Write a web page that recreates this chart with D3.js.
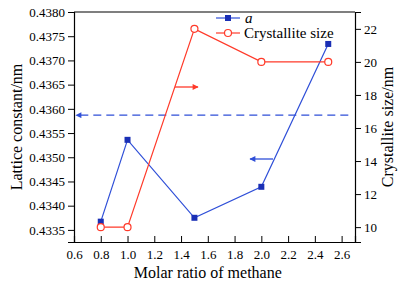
<!DOCTYPE html>
<html>
<head>
<meta charset="utf-8">
<script src="https://cdn.jsdelivr.net/npm/d3@7"></script>
<style>
  body { margin: 0; background: #fff; }
  svg, svg text { font-family: "Liberation Serif", "Times New Roman", serif; }
  .axis path, .axis line { stroke: #000; }
  .axis text { font-size: 13px; fill: #000; }
</style>
</head>
<body>
<div id="chart"></div>
<script>
    'use strict';

    // data
    var molarRatio = [0.8, 1.0, 1.5, 2.0, 2.5];
    var latticeA = [0.43367, 0.43536, 0.43375, 0.43439, 0.43734];
    var crystalliteSize = [10.0, 10.0, 22.0, 20.0, 20.0];
    var xTicks = [0.6, 0.8, 1.0, 1.2, 1.4, 1.6, 1.8, 2.0, 2.2, 2.4, 2.6];
    var leftTicks = [0.4335, 0.4340, 0.4345, 0.4350, 0.4355, 0.4360, 0.4365, 0.4370, 0.4375, 0.4380];
    var rightTicks = [10, 12, 14, 16, 18, 20, 22];
    var dashLevel = 0.43587;
    var legendNames = ["a", "Crystallite size"];

    var blue = "#2f4fd8", blueMark = "#1a2fb5", red = "#ff3a2a";
    var W = 403, H = 284;
    var m = {top: 12, right: 48, bottom: 42, left: 74};
    var w = W - m.left - m.right, h = H - m.top - m.bottom;
    var serif = "Liberation Serif, Times New Roman, serif";

    var svg = d3.select("#chart").append("svg").attr("width", W).attr("height", H)
        .attr("font-family", serif);
    var g = svg.append("g").attr("transform", "translate(" + m.left + "," + m.top + ")");

    var x = d3.scaleLinear().domain([0.6, 2.7]).range([0, w]);
    var yL = d3.scaleLinear().domain([0.43325, 0.43800]).range([h, 0]);
    var yR = d3.scaleLinear().domain([9.1, 23.02]).range([h, 0]);

    var defs = svg.append("defs");
    function marker(id, color) {
        defs.append("marker").attr("id", id).attr("viewBox", "0 0 10 10")
            .attr("refX", 9).attr("refY", 5).attr("markerWidth", 9).attr("markerHeight", 6)
            .attr("markerUnits", "userSpaceOnUse").attr("orient", "auto")
            .append("path").attr("d", "M0,0L10,5L0,10z").attr("fill", color);
    }
    marker("arrBlue", blue);
    marker("arrRed", red);

    // axes
    var gx = g.append("g").attr("class", "axis").attr("transform", "translate(0," + h + ")")
        .call(d3.axisBottom(x).tickValues(xTicks).tickSize(-6).tickPadding(8).tickFormat(d3.format(".1f")));
    var gl = g.append("g").attr("class", "axis")
        .call(d3.axisLeft(yL).tickValues(leftTicks).tickSize(6).tickPadding(3).tickFormat(d3.format(".4f")));
    var gr = g.append("g").attr("class", "axis").attr("transform", "translate(" + w + ",0)")
        .call(d3.axisRight(yR).tickValues(rightTicks).tickSize(6).tickPadding(3));
    [gx, gl, gr].forEach(function(a) { a.attr("font-family", serif).attr("font-size", 13); });
    g.append("line").attr("x1", 0).attr("x2", w).attr("y1", 0).attr("y2", 0).attr("stroke", "#000").attr("stroke-width", 1.2);
    g.selectAll(".axis .domain").attr("stroke-width", 1.2);

    // axis titles
    svg.append("text").attr("transform", "translate(22," + (m.top + h / 2) + ") rotate(-90)")
        .attr("text-anchor", "middle").attr("font-size", 16).text("Lattice constant/nm");
    svg.append("text").attr("transform", "translate(393," + (m.top + h / 2) + ") rotate(-90)")
        .attr("text-anchor", "middle").attr("font-size", 16).text("Crystallite size/nm");
    svg.append("text").attr("x", m.left + x(1.6)).attr("y", 278)
        .attr("text-anchor", "middle").attr("font-size", 16).text("Molar ratio of methane");

    // dashed reference line with arrow to the left axis
    g.append("line").attr("x1", x(2.65)).attr("x2", 2).attr("y1", yL(dashLevel)).attr("y2", yL(dashLevel))
        .attr("stroke", blue).attr("stroke-width", 1.2).attr("stroke-dasharray", "8,5")
        .attr("marker-end", "url(#arrBlue)");

    // series a
    var ptsA = molarRatio.map(function(d, i) { return [x(d), yL(latticeA[i])]; });
    g.append("path").attr("d", d3.line()(ptsA)).attr("fill", "none").attr("stroke", blue).attr("stroke-width", 1.2);
    g.selectAll(".sq").data(ptsA).enter().append("rect")
        .attr("x", function(d) { return d[0] - 3; }).attr("y", function(d) { return d[1] - 3; })
        .attr("width", 6).attr("height", 6).attr("fill", blueMark);

    // crystallite size series
    var ptsC = molarRatio.map(function(d, i) { return [x(d), yR(crystalliteSize[i])]; });
    g.append("path").attr("d", d3.line()(ptsC)).attr("fill", "none").attr("stroke", red).attr("stroke-width", 1.2);
    g.selectAll(".ci").data(ptsC).enter().append("circle")
        .attr("cx", function(d) { return d[0]; }).attr("cy", function(d) { return d[1]; })
        .attr("r", 3.5).attr("fill", "#fff").attr("stroke", red).attr("stroke-width", 1.2);

    // axis-indicator arrows
    g.append("line").attr("x1", 101).attr("x2", 124).attr("y1", 75).attr("y2", 75)
        .attr("stroke", red).attr("stroke-width", 1.3).attr("marker-end", "url(#arrRed)");
    g.append("line").attr("x1", 199).attr("x2", 176).attr("y1", 147).attr("y2", 147)
        .attr("stroke", blue).attr("stroke-width", 1.3).attr("marker-end", "url(#arrBlue)");

    // legend
    var lg = svg.append("g").attr("transform", "translate(216,18)");
    lg.append("line").attr("x1", 0).attr("x2", 24).attr("stroke", blue).attr("stroke-width", 1.2);
    lg.append("rect").attr("x", 9).attr("y", -3).attr("width", 6).attr("height", 6).attr("fill", blueMark);
    lg.append("text").attr("x", 29).attr("y", 5).attr("font-size", 15).attr("font-style", "italic").text(legendNames[0]);
    lg.append("line").attr("x1", 0).attr("x2", 24).attr("y1", 15).attr("y2", 15).attr("stroke", red).attr("stroke-width", 1.2);
    lg.append("circle").attr("cx", 12).attr("cy", 15).attr("r", 3.5).attr("fill", "#fff").attr("stroke", red).attr("stroke-width", 1.2);
    lg.append("text").attr("x", 28).attr("y", 20).attr("font-size", 15).text(legendNames[1]);
</script>
</body>
</html>
